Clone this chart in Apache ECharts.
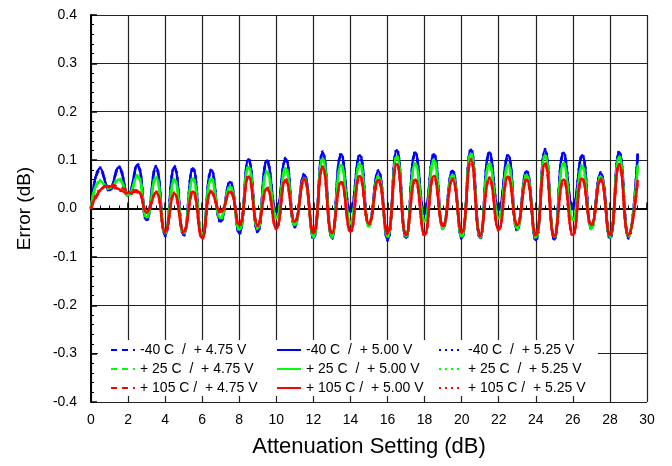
<!DOCTYPE html>
<html>
<head>
<meta charset="utf-8">
<script src="https://cdn.jsdelivr.net/npm/echarts@6/dist/echarts.min.js"></script>
<style>
  html, body { margin: 0; padding: 0; background: #fff; }
  #chart { width: 672px; height: 466px; }
</style>
</head>
<body>
<div id="chart"></div>
<script>
// attenuation steps, 0.5 dB apart
var steps = [0, 0.5, 1, 1.5, 2, 2.5, 3, 3.5, 4, 4.5, 5, 5.5, 6, 6.5, 7, 7.5, 8, 8.5, 9, 9.5,
  10, 10.5, 11, 11.5, 12, 12.5, 13, 13.5, 14, 14.5, 15, 15.5, 16, 16.5, 17, 17.5, 18, 18.5, 19, 19.5,
  20, 20.5, 21, 21.5, 22, 22.5, 23, 23.5, 24, 24.5, 25, 25.5, 26, 26.5, 27, 27.5, 28, 28.5, 29, 29.5];

// -40 C
var cold475 = [0, 0.080, 0.040, 0.082, 0.030, 0.087, -0.022, 0.084, -0.053, 0.084, -0.053, 0.081, -0.058, 0.077, -0.025, 0.053, -0.049, 0.099, -0.046, 0.096,
  -0.005, 0.100, -0.035, 0.068, -0.059, 0.113, -0.059, 0.109, -0.005, 0.107, -0.032, 0.075, -0.062, 0.118, -0.059, 0.113, -0.008, 0.109, -0.039, 0.076,
  -0.059, 0.119, -0.059, 0.113, -0.001, 0.107, -0.042, 0.075, -0.063, 0.118, -0.062, 0.112, 0.002, 0.107, -0.039, 0.071, -0.059, 0.114, -0.058, 0.111];
var cold500 = [0, 0.083, 0.038, 0.085, 0.028, 0.090, -0.024, 0.086, -0.055, 0.086, -0.055, 0.083, -0.060, 0.079, -0.027, 0.055, -0.051, 0.102, -0.048, 0.099,
  -0.007, 0.103, -0.037, 0.070, -0.061, 0.116, -0.061, 0.112, -0.007, 0.110, -0.034, 0.077, -0.064, 0.121, -0.061, 0.116, -0.010, 0.112, -0.041, 0.078,
  -0.061, 0.122, -0.061, 0.116, -0.003, 0.110, -0.044, 0.077, -0.065, 0.121, -0.064, 0.115, 0.000, 0.110, -0.041, 0.073, -0.061, 0.117, -0.060, 0.114];
var cold525 = [0, 0.085, 0.036, 0.087, 0.026, 0.092, -0.026, 0.088, -0.057, 0.088, -0.057, 0.085, -0.062, 0.081, -0.029, 0.057, -0.053, 0.104, -0.050, 0.101,
  -0.009, 0.105, -0.039, 0.072, -0.063, 0.118, -0.063, 0.114, -0.009, 0.112, -0.036, 0.079, -0.066, 0.123, -0.063, 0.118, -0.012, 0.114, -0.043, 0.080,
  -0.063, 0.124, -0.063, 0.118, -0.005, 0.112, -0.046, 0.079, -0.067, 0.123, -0.066, 0.117, -0.002, 0.112, -0.043, 0.075, -0.063, 0.119, -0.062, 0.116];

// +25 C
var room475 = [0, 0.055, 0.044, 0.058, 0.030, 0.065, -0.016, 0.062, -0.049, 0.058, -0.049, 0.060, -0.053, 0.060, -0.018, 0.043, -0.042, 0.084, -0.039, 0.074,
  -0.018, 0.081, -0.032, 0.060, -0.056, 0.101, -0.056, 0.088, -0.029, 0.091, -0.035, 0.064, -0.056, 0.106, -0.056, 0.091, -0.025, 0.098, -0.039, 0.067,
  -0.056, 0.111, -0.056, 0.091, -0.018, 0.088, -0.039, 0.067, -0.058, 0.108, -0.057, 0.092, -0.022, 0.086, -0.039, 0.064, -0.056, 0.105, -0.056, 0.088];
var room500 = [0, 0.057, 0.042, 0.060, 0.028, 0.067, -0.018, 0.064, -0.051, 0.060, -0.051, 0.062, -0.055, 0.062, -0.020, 0.045, -0.044, 0.086, -0.041, 0.076,
  -0.020, 0.083, -0.034, 0.062, -0.058, 0.103, -0.058, 0.090, -0.031, 0.093, -0.037, 0.066, -0.058, 0.108, -0.058, 0.093, -0.027, 0.100, -0.041, 0.069,
  -0.058, 0.113, -0.058, 0.093, -0.020, 0.090, -0.041, 0.069, -0.060, 0.110, -0.059, 0.094, -0.024, 0.088, -0.041, 0.066, -0.058, 0.107, -0.058, 0.090];
var room525 = [0, 0.059, 0.040, 0.062, 0.026, 0.069, -0.020, 0.066, -0.053, 0.062, -0.053, 0.064, -0.057, 0.064, -0.022, 0.047, -0.046, 0.088, -0.043, 0.078,
  -0.022, 0.085, -0.036, 0.064, -0.060, 0.105, -0.060, 0.092, -0.033, 0.095, -0.039, 0.068, -0.060, 0.110, -0.060, 0.095, -0.029, 0.102, -0.043, 0.071,
  -0.060, 0.115, -0.060, 0.095, -0.022, 0.092, -0.043, 0.071, -0.062, 0.112, -0.061, 0.096, -0.026, 0.090, -0.043, 0.068, -0.060, 0.109, -0.060, 0.092];

// +105 C
var hot475 = [0, 0.036, 0.049, 0.045, 0.038, 0.037, -0.004, 0.032, -0.046, 0.029, -0.046, 0.033, -0.059, 0.033, -0.005, 0.033, -0.032, 0.064, -0.032, 0.040,
  -0.039, 0.057, -0.025, 0.058, -0.049, 0.083, -0.049, 0.053, -0.046, 0.065, -0.029, 0.057, -0.049, 0.090, -0.053, 0.058, -0.053, 0.065, -0.034, 0.058,
  -0.048, 0.098, -0.053, 0.060, -0.042, 0.064, -0.032, 0.058, -0.053, 0.091, -0.056, 0.058, -0.053, 0.060, -0.032, 0.058, -0.053, 0.088, -0.053, 0.057];
var hot500 = [0, 0.038, 0.046, 0.040, 0.032, 0.035, -0.007, 0.033, -0.048, 0.031, -0.048, 0.035, -0.061, 0.035, -0.007, 0.035, -0.034, 0.066, -0.034, 0.042,
  -0.041, 0.059, -0.027, 0.060, -0.051, 0.085, -0.051, 0.055, -0.048, 0.067, -0.031, 0.059, -0.051, 0.092, -0.055, 0.060, -0.055, 0.067, -0.036, 0.060,
  -0.050, 0.100, -0.055, 0.062, -0.044, 0.066, -0.034, 0.060, -0.055, 0.093, -0.058, 0.060, -0.055, 0.062, -0.034, 0.060, -0.055, 0.090, -0.055, 0.059];
var hot525 = [0, 0.040, 0.044, 0.038, 0.030, 0.033, -0.009, 0.035, -0.050, 0.033, -0.050, 0.037, -0.063, 0.037, -0.009, 0.037, -0.036, 0.068, -0.036, 0.044,
  -0.043, 0.061, -0.029, 0.062, -0.053, 0.087, -0.053, 0.057, -0.050, 0.069, -0.033, 0.061, -0.053, 0.094, -0.057, 0.062, -0.057, 0.069, -0.038, 0.062,
  -0.052, 0.102, -0.057, 0.064, -0.046, 0.068, -0.036, 0.062, -0.057, 0.095, -0.060, 0.062, -0.057, 0.064, -0.036, 0.062, -0.057, 0.092, -0.057, 0.061];

var names = [
  "-40 C  /  + 4.75 V", "-40 C  /  + 5.00 V", "-40 C  /  + 5.25 V",
  "+ 25 C  /  + 4.75 V", "+ 25 C  /  + 5.00 V", "+ 25 C  /  + 5.25 V",
  "+ 105 C /  + 4.75 V", "+ 105 C /  + 5.00 V", "+ 105 C /  + 5.25 V"
];
var values = [cold475, cold500, cold525, room475, room500, room525, hot475, hot500, hot525];
var colors = ["#0000ff", "#0000ff", "#0000ff", "#00ff00", "#00ff00", "#00ff00", "#ff0000", "#ff0000", "#ff0000"];
var dashes = ["dashed", "solid", "dotted", "dashed", "solid", "dotted", "dashed", "solid", "dotted"];

var font = "Liberation Sans";

function pairs(ys) {
  var out = [];
  for (var i = 0; i < ys.length; i++) out.push([steps[i], ys[i]]);
  return out;
}

var series = [];
for (var k = 0; k < names.length; k++) {
  series.push({
    name: names[k],
    type: "line",
    data: pairs(values[k]),
    smooth: 0.5,
    symbol: "none",
    color: colors[k],
    lineStyle: {
      width: 2.5,
      type: dashes[k] == "dashed" ? [6, 5] : (dashes[k] == "dotted" ? [2, 4] : "solid")
    },
    animation: false
  });
}

function legendCol(left, list) {
  return {
    left: left,
    top: 343,
    orient: "vertical",
    data: list,
    itemWidth: 24,
    itemHeight: 12,
    itemGap: 5,
    padding: 0,
    selectedMode: false,
    itemStyle: { opacity: 0 },   // hide the circle, keep only the line
    textStyle: { fontFamily: font, fontSize: 14, color: "#000" }
  };
}

var option = {
  backgroundColor: "#fff",
  animation: false,
  grid: { left: 91, right: 25, top: 15, bottom: 64 },
  graphic: [{
    type: "rect",
    z: 3,
    shape: { x: 98, y: 340, width: 500, height: 56 },
    style: { fill: "#fff" }
  }],
  legend: [
    legendCol(110, [names[0], names[3], names[6]]),
    legendCol(276, [names[1], names[4], names[7]]),
    legendCol(438, [names[2], names[5], names[8]])
  ],
  xAxis: {
    type: "value",
    min: 0,
    max: 30,
    interval: 2,
    name: "Attenuation Setting (dB)",
    nameLocation: "middle",
    nameGap: 34,
    nameTextStyle: { fontFamily: font, fontSize: 22, color: "#000" },
    axisLine: { lineStyle: { color: "#000", width: 2 } },
    axisTick: { inside: true, length: 6, lineStyle: { color: "#000", width: 1.5 } },
    minorTick: { show: true, splitNumber: 4, length: 3, lineStyle: { color: "#000", width: 1 } },
    axisLabel: { margin: 11, fontFamily: font, fontSize: 14, color: "#000" },
    splitLine: { show: true, lineStyle: { color: "#222", width: 1.2 } }
  },
  yAxis: {
    type: "value",
    min: -0.4,
    max: 0.4,
    interval: 0.1,
    name: "Error (dB)",
    nameLocation: "middle",
    nameGap: 57,
    nameTextStyle: { fontFamily: font, fontSize: 19, color: "#000" },
    axisLine: { lineStyle: { color: "#000", width: 2 } },
    axisTick: { inside: true, length: 6, lineStyle: { color: "#000", width: 1.5 } },
    minorTick: { show: true, splitNumber: 5, length: 3, lineStyle: { color: "#000", width: 1 } },
    axisLabel: {
      margin: 14,
      fontFamily: font,
      fontSize: 14,
      color: "#000",
      formatter: function (v) { return v.toFixed(1); }
    },
    splitLine: { show: true, lineStyle: { color: "#222", width: 1.2 } }
  },
  series: series
};

var chart = echarts.init(document.getElementById("chart"));
chart.setOption(option);
</script>
</body>
</html>
